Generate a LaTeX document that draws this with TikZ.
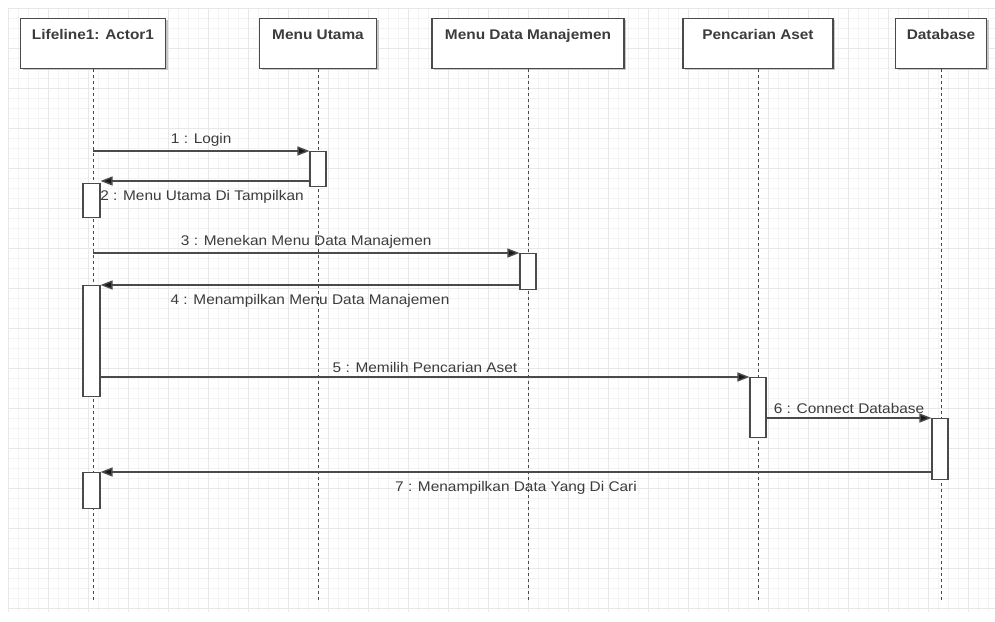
\documentclass[tikz,border=0pt]{standalone}
\usepackage{fontspec}
\setmainfont{Liberation Sans}
\newfontfamily\lab[FakeStretch=1.1]{Liberation Sans}
\usetikzlibrary{arrows.meta}
\definecolor{ink}{HTML}{3C3C3C}
\definecolor{edge}{HTML}{4A4A4A}
\definecolor{gridminor}{HTML}{F3F3F3}
\definecolor{gridmajor}{HTML}{E8E8E8}
\begin{document}
\begin{tikzpicture}[x=1pt,y=-1pt,
  headbox/.style={draw=edge, line width=1.1pt, fill=white, minimum height=50pt,
    inner sep=0pt, anchor=north, text=ink},
  headshadow/.style={fill=black!22, draw=none, inner sep=0pt, minimum height=50pt, anchor=north},
  headtext/.style={font=\lab\bfseries\fontsize{14}{16}\selectfont, text=ink},
  life/.style={draw=edge, line width=1pt, dash pattern=on 3pt off 3pt},
  act/.style={draw=edge, line width=1.1pt, fill=white, minimum width=16pt,
    inner sep=0pt, anchor=north},
  msg/.style={draw=edge, line width=1.4pt, -{Triangle[length=12pt,width=9pt,fill=black!90]}},
  msglabel/.style={font=\lab\fontsize{14}{16}\selectfont, text=ink, inner sep=4pt},
  lower/.style={below, yshift=-5pt}
]
\useasboundingbox (0,0) rectangle (995,621);
\fill[white] (0,0) rectangle (995,621);

% background grid
\foreach \gx in {8,18,...,988} \draw[gridminor, line width=0.6pt] (\gx,8) -- (\gx,612);
\foreach \gy in {8,18,...,608} \draw[gridminor, line width=0.6pt] (8,\gy) -- (995,\gy);
\foreach \gx in {8,48,...,988} \draw[gridmajor, line width=0.7pt] (\gx,8) -- (\gx,612);
\foreach \gy in {8,48,...,608} \draw[gridmajor, line width=0.7pt] (8,\gy) -- (995,\gy);

% lifeline heads (with a soft drop shadow)
\foreach \cx/\w in {93/145, 318/117, 528/192, 758/150, 941/91}
  \node[headshadow, minimum width=\w pt] at (\cx+2,20) {};
\node[headbox, minimum width=145pt,
  label={[headtext, anchor=north, yshift=-8pt]north:{Lifeline1: Actor1}}] (actor) at (93,18) {};
\node[headbox, minimum width=117pt,
  label={[headtext, anchor=north, yshift=-8pt]north:{Menu Utama}}] (menu) at (318,18) {};
\node[headbox, minimum width=192pt,
  label={[headtext, anchor=north, yshift=-8pt]north:{Menu Data Manajemen}}] (mdm) at (528,18) {};
\node[headbox, minimum width=150pt,
  label={[headtext, anchor=north, yshift=-8pt]north:{Pencarian Aset}}] (cari) at (758,18) {};
\node[headbox, minimum width=91pt,
  label={[headtext, anchor=north, yshift=-8pt]north:{Database}}] (db) at (941,18) {};

% lifeline ends
\coordinate (actorEnd) at (93,602);
\coordinate (menuEnd) at (318,602);
\coordinate (mdmEnd) at (528,602);
\coordinate (cariEnd) at (758,602);
\coordinate (dbEnd) at (941,602);

\draw[life] (actor.south) -- (actorEnd);
\draw[life] (menu.south) -- (menuEnd);
\draw[life] (mdm.south) -- (mdmEnd);
\draw[life] (cari.south) -- (cariEnd);
\draw[life] (db.south) -- (dbEnd);

% activation bars
\node[act, minimum height=35pt] (menuA) at (318,151) {};
\node[act, minimum height=34pt, minimum width=17pt] (actA1) at (91.5,183) {};
\node[act, minimum height=36pt] (mdmA) at (528,253) {};
\node[act, minimum height=111pt, minimum width=17pt] (actA2) at (91.5,285) {};
\node[act, minimum height=60pt] (cariA) at (758,377) {};
\node[act, minimum height=61pt] (dbA) at (940,418) {};
\node[act, minimum height=36pt, minimum width=17pt] (actA3) at (91.5,472) {};

% messages
\coordinate (m1) at (93,151);
\coordinate (m3) at (93,253);
\draw[msg] (m1) -- (menuA.north west)
  node[midway, above, msglabel] {1 : Login};
\draw[msg] (menuA.west |- 0,181) -- (actA1.east |- 0,181)
  node[midway, msglabel, lower, xshift=-3pt] {2 : Menu Utama Di Tampilkan};
\draw[msg] (m3) -- (mdmA.north west)
  node[midway, above, msglabel] {3 : Menekan Menu Data Manajemen};
\draw[msg] (mdmA.west |- 0,285) -- (actA2.north east)
  node[midway, msglabel, lower] {4 : Menampilkan Menu Data Manajemen};
\draw[msg] (actA2.east |- 0,377) -- (cariA.north west)
  node[midway, above, msglabel] {5 : Memilih Pencarian Aset};
\draw[msg] (cariA.east |- 0,418) -- (dbA.north west)
  node[midway, above, msglabel] {6 : Connect Database};
\draw[msg] (dbA.west |- 0,472) -- (actA3.north east)
  node[midway, msglabel, lower] {7 : Menampilkan Data Yang Di Cari};
\end{tikzpicture}
\end{document}
